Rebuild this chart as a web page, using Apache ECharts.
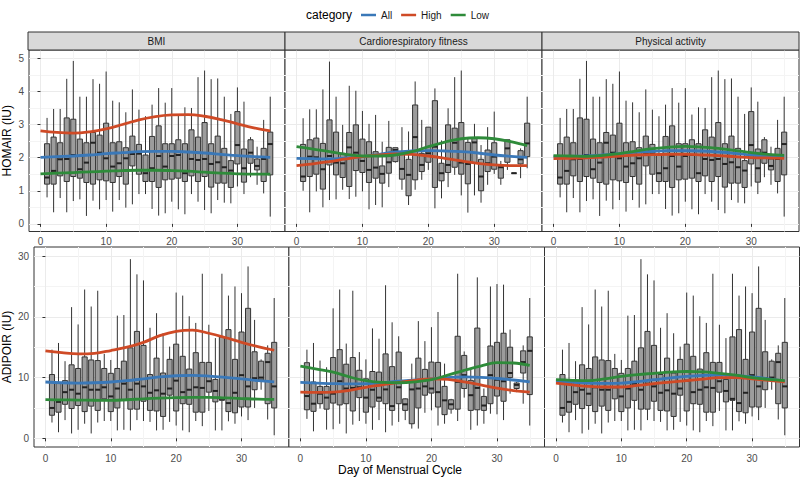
<!DOCTYPE html>
<html><head><meta charset="utf-8">
<script src="https://cdn.jsdelivr.net/npm/echarts@6/dist/echarts.min.js"></script>
<style>html,body{margin:0;padding:0;background:#fff}#c{width:800px;height:477px}</style>
</head><body><div id="c"></div><script>
const FONT = "'Liberation Sans', Arial, Helvetica, sans-serif";
const panelTitles = ['BMI', 'Cardiorespiratory fitness', 'Physical activity'];
const rowTitles = ['HOMAIR (IU)', 'ADIPOIR (IU)'];
const xTitle = 'Day of Menstrual Cycle';
const categories = ['All', 'High', 'Low'];
const categoryColors = ['#3a78b8', '#cf4a26', '#2e8b3a'];
const xTicks = [0, 10, 20, 30];
const homaTicks = [0, 1, 2, 3, 4, 5];
const adipoTicks = [0, 10, 20, 30];
const days = [1,2,3,4,5,6,7,8,9,10,11,12,13,14,15,16,17,18,19,20,21,22,23,24,25,26,27,28,29,30,31,32,33,34,35];
const smoothDays = [0, 2.5, 5, 7.5, 10, 12.5, 15, 17.5, 20, 22.5, 25, 27.5, 30, 32.5, 35];

// box stats per day: [min, q1, median, q3, max]
const homaBmiPaBoxes = [
[0.80,1.20,1.40,2.42,3.20],[0.35,1.20,1.60,2.62,3.47],[0.78,1.45,1.95,2.45,3.47],[0.35,1.28,1.96,3.20,4.38],
[0.69,1.43,2.08,3.16,4.92],[0.74,1.38,1.65,2.56,3.84],[0.24,1.25,1.85,2.45,3.84],[0.70,1.20,2.45,2.76,4.37],
[0.44,1.33,2.15,2.68,4.23],[0.72,1.30,1.98,3.04,4.60],[0.37,1.25,1.73,2.45,3.72],[0.72,1.43,1.83,2.48,3.67],
[0.49,1.20,1.98,2.30,3.37],[0.59,1.75,2.11,2.65,4.06],[0.90,1.50,2.12,2.40,3.45],[0.90,1.28,1.53,2.08,3.25],
[0.45,1.28,1.68,2.64,3.60],[0.25,1.10,2.05,2.96,4.10],[0.32,1.33,1.73,2.42,3.66],[0.67,1.35,2.05,2.42,4.10],
[0.44,1.38,2.08,2.54,3.30],[0.29,1.28,1.53,2.42,3.52],[0.90,1.45,1.96,2.84,3.50],[0.67,1.28,1.93,2.62,4.43],
[0.42,1.43,1.96,3.06,4.63],[0.32,1.11,1.81,2.42,4.37],[0.72,1.23,1.86,2.65,4.39],[0.64,1.23,1.71,2.28,3.84],
[0.62,1.10,1.61,1.91,3.32],[1.13,1.81,2.38,3.39,4.12],[0.90,1.26,1.68,2.26,3.69],[1.41,1.83,2.15,2.54,2.62],
[1.18,1.63,1.75,1.96,2.33],[0.92,1.28,1.96,2.28,3.14],[0.22,1.48,2.41,2.77,3.84]];
const homaCrfBoxes = [
[1.00,1.28,1.43,2.40,3.19],[0.35,1.43,2.03,2.54,3.46],[0.98,1.50,2.01,2.59,3.46],[0.50,1.05,1.65,2.43,4.06],
[0.72,1.78,2.05,3.14,4.90],[0.74,1.48,1.85,2.77,3.84],[1.03,1.40,1.83,2.13,2.99],[0.75,1.13,2.31,2.76,4.17],
[0.82,1.61,2.15,2.99,4.02],[0.98,1.55,1.90,2.56,3.41],[0.44,1.25,1.63,2.48,3.02],[0.57,1.38,1.70,2.18,3.29],
[0.50,1.23,1.51,1.75,2.48],[1.11,1.53,1.86,2.31,3.11],[1.85,1.88,2.23,2.30,2.30],[1.03,1.35,1.66,2.13,2.92],
[0.57,0.85,1.48,1.95,2.79],[1.03,1.33,2.62,3.59,4.30],[1.33,1.58,1.78,2.13,3.14],[1.63,1.86,2.13,2.92,2.92],
[0.47,1.10,2.33,3.72,4.09],[0.77,1.30,1.53,1.83,2.52],[1.11,1.55,1.78,2.99,3.49],[1.48,1.71,2.45,2.89,4.43],
[0.86,1.50,1.85,3.06,4.63],[0.34,1.21,1.81,2.46,2.59],[0.86,1.83,2.46,2.59,3.02],[0.64,1.00,1.43,1.95,2.38],
[1.18,1.58,1.83,2.23,2.92],[1.51,1.65,2.03,2.45,3.39],[1.18,1.38,1.71,1.75,1.90],[1.63,1.86,2.28,2.54,2.54],
[1.53,1.53,1.53,1.53,1.53],[1.38,1.81,1.95,2.21,2.28],[1.68,2.03,2.43,3.04,3.84]];
const adipoBmiPaBoxes = [
[2.6,3.8,5.0,10.5,14.6],[1.0,4.3,6.0,9.1,15.7],[3.0,5.6,7.6,9.5,12.7],[0.8,4.9,8.0,12.1,21.6],
[1.4,5.4,7.35,11.5,18.75],[2.4,4.4,8.4,13.4,24.5],[0.8,5.3,8.0,12.9,21.7],[2.6,4.6,8.0,12.8,24.3],
[2.85,6.5,8.4,11.5,13.9],[2.85,4.4,6.9,10.7,12.9],[1.3,5.0,8.2,11.5,20.2],[1.4,6.25,9.0,12.7,20.3],
[1.3,4.8,8.0,14.9,29.5],[3.0,4.8,9.0,17.6,27.0],[2.85,6.1,8.55,15.3,26.0],[2.7,4.6,7.5,10.5,18.2],
[1.3,4.5,7.9,13.2,20.6],[1.4,3.6,7.35,10.75,17.3],[2.7,7.1,8.2,13.0,15.1],[2.1,4.5,9.5,15.5,24.0],
[1.3,5.7,7.6,13.5,23.5],[1.0,5.6,8.0,11.4,20.1],[2.85,4.3,8.4,14.1,19.0],[2.0,4.3,8.3,12.5,27.1],
[4.5,7.6,9.4,12.5,18.7],[1.3,6.0,7.8,9.7,16.5],[1.3,6.25,6.5,16.7,27.1],[2.8,4.4,5.8,17.9,23.5],
[2.4,4.2,7.5,13.0,25.0],[3.6,5.15,10.4,17.5,23.9],[3.0,5.15,8.55,21.4,28.3],[5.0,8.0,9.9,14.25,19.5],
[8.0,9.6,10.0,12.7,13.0],[3.1,5.7,12.55,14.0,15.3],[0.5,5.0,8.55,15.8,23.1]];
const adipoCrfBoxes = [
[3.2,4.7,6.96,12.45,14.6],[1.15,4.44,5.7,9.27,15.7],[4.9,5.7,7.35,8.55,12.8],[1.43,4.8,6.7,8.55,11.7],
[1.5,5.8,7.35,13.3,21.4],[2.4,5.5,9.4,14.6,24.5],[0.8,5.7,8.2,12.2,15.6],[2.25,4.5,8.3,13.3,24.3],
[2.85,6.7,8.4,11.2,14.2],[2.4,4.3,6.7,9.8,13.0],[1.4,5.15,8.0,11.0,18.1],[3.0,6.1,6.7,10.9,16.4],
[1.0,5.7,8.05,13.9,25.2],[2.1,4.6,5.3,11.8,19.1],[2.7,5.7,8.4,14.2,16.8],[3.0,4.6,5.6,6.5,6.6],
[1.6,2.4,8.05,9.65,12.3],[1.6,5.0,8.2,13.2,19.3],[4.2,7.1,8.55,11.35,16.0],[4.6,7.45,8.2,12.55,18.3],
[2.1,5.15,7.6,12.5,20.8],[2.4,3.9,6.25,8.55,12.3],[4.05,4.8,5.6,6.35,6.5],[2.85,4.8,9.3,16.8,27.1],
[6.7,8.2,10.4,13.65,14.3],[1.4,4.6,7.1,9.55,11.5],[2.1,4.7,8.3,18.15,26.5],[2.4,4.6,5.4,6.9,8.2],
[4.05,5.7,10.4,15.2,25.0],[3.95,6.96,9.65,15.8,25.4],[3.0,6.1,9.4,17.3,25.3],[7.35,10.0,10.75,15.0,17.9],
[7.6,8.2,8.8,9.1,9.27],[5.7,10.75,12.55,14.4,15.3],[2.1,7.2,14.4,16.7,23.1]];

// smooth curves, values read at smoothDays
const homaBmiAll  = [2.01, 2.03, 2.05, 2.08, 2.12, 2.15, 2.18, 2.19, 2.19, 2.17, 2.14, 2.10, 2.06, 2.03, 2.01];
const homaBmiHigh = [2.81, 2.76, 2.74, 2.78, 2.87, 3.00, 3.14, 3.24, 3.29, 3.30, 3.25, 3.15, 3.02, 2.90, 2.81];
const homaBmiLow  = [1.51, 1.53, 1.55, 1.57, 1.59, 1.61, 1.62, 1.62, 1.61, 1.59, 1.56, 1.53, 1.51, 1.50, 1.50];
const homaCrfAll  = [1.98, 1.97, 1.96, 1.99, 2.03, 2.10, 2.17, 2.20, 2.21, 2.20, 2.18, 2.14, 2.08, 2.04, 2.01];
const homaCrfHigh = [1.76, 1.81, 1.88, 1.96, 2.03, 2.08, 2.11, 2.10, 2.05, 1.98, 1.90, 1.83, 1.78, 1.76, 1.76];
const homaCrfLow  = [2.33, 2.26, 2.18, 2.10, 2.05, 2.05, 2.08, 2.18, 2.33, 2.47, 2.57, 2.60, 2.57, 2.48, 2.36];
const homaPaAll   = [2.03, 2.04, 2.05, 2.08, 2.12, 2.16, 2.19, 2.21, 2.21, 2.20, 2.17, 2.13, 2.08, 2.05, 2.04];
const homaPaHigh  = [1.97, 1.98, 1.99, 2.02, 2.05, 2.08, 2.09, 2.10, 2.10, 2.08, 2.06, 2.03, 2.00, 1.99, 1.98];
const homaPaLow   = [2.06, 2.05, 2.04, 2.07, 2.12, 2.20, 2.27, 2.32, 2.34, 2.32, 2.28, 2.22, 2.15, 2.10, 2.07];
const adipoBmiAll  = [9.27, 9.15, 9.1, 9.15, 9.27, 9.5, 9.8, 10.1, 10.3, 10.35, 10.25, 10.05, 9.8, 9.5, 9.3];
const adipoBmiHigh = [14.4, 14.1, 13.9, 14.0, 14.45, 15.0, 15.8, 16.9, 17.6, 17.8, 17.3, 16.6, 15.8, 15.1, 14.5];
const adipoBmiLow  = [6.36, 6.33, 6.3, 6.27, 6.25, 6.35, 6.5, 6.62, 6.7, 6.74, 6.74, 6.65, 6.55, 6.45, 6.4];
const adipoCrfAll  = [9.2, 9.1, 9.0, 8.95, 9.0, 9.15, 9.4, 9.6, 9.8, 10.0, 10.1, 10.05, 9.85, 9.6, 9.3];
const adipoCrfHigh = [7.6, 7.55, 7.6, 7.9, 8.4, 8.8, 9.2, 9.55, 9.8, 9.7, 9.3, 8.8, 8.25, 7.85, 7.6];
const adipoCrfLow  = [11.9, 11.4, 10.9, 10.1, 9.5, 9.2, 9.15, 9.3, 9.65, 10.4, 11.2, 11.9, 12.45, 12.4, 12.0];
const adipoPaAll   = [9.4, 9.2, 9.1, 9.05, 9.1, 9.35, 9.65, 9.95, 10.2, 10.35, 10.4, 10.3, 10.1, 9.8, 9.4];
const adipoPaHigh  = [9.1, 8.8, 8.55, 8.45, 8.45, 8.7, 9.0, 9.25, 9.5, 9.75, 10.0, 10.0, 9.8, 9.55, 9.3];
const adipoPaLow   = [9.65, 9.55, 9.5, 9.8, 10.2, 10.5, 10.7, 10.9, 11.0, 10.95, 10.7, 10.4, 10.0, 9.7, 9.5];

const panels = [
  {boxes: homaBmiPaBoxes, lines: [homaBmiAll, homaBmiHigh, homaBmiLow]},
  {boxes: homaCrfBoxes, lines: [homaCrfAll, homaCrfHigh, homaCrfLow]},
  {boxes: homaBmiPaBoxes, lines: [homaPaAll, homaPaHigh, homaPaLow]},
  {boxes: adipoBmiPaBoxes, lines: [adipoBmiAll, adipoBmiHigh, adipoBmiLow]},
  {boxes: adipoCrfBoxes, lines: [adipoCrfAll, adipoCrfHigh, adipoCrfLow]},
  {boxes: adipoBmiPaBoxes, lines: [adipoPaAll, adipoPaHigh, adipoPaLow]}
];

const grids = [
  {left: 28, top: 50, width: 257, height: 181.5},
  {left: 285, top: 50, width: 257, height: 181.5},
  {left: 542, top: 50, width: 257, height: 181.5},
  {left: 33.3, top: 247, width: 255.6, height: 200},
  {left: 288.9, top: 247, width: 255.6, height: 200},
  {left: 544.5, top: 247, width: 255, height: 200}
].map(g => Object.assign({show: true, borderColor: '#333', borderWidth: 1, backgroundColor: '#fff'}, g));

const labelStyle = {fontSize: 10, color: '#4d4d4d', fontFamily: FONT};
const xAxes = grids.map((g, i) => ({
  gridIndex: i, type: 'value', min: -1.75, max: 37.25, splitNumber: 4,
  axisLine: {show: false},
  axisTick: {show: true, length: 3, lineStyle: {color: '#333'}, customValues: xTicks},
  axisLabel: Object.assign({customValues: xTicks, margin: i < 3 ? 5 : 6}, labelStyle),
  splitLine: {show: true, lineStyle: {color: '#ebebeb', width: 1}},
  minorTick: {show: false, splitNumber: 2},
  minorSplitLine: {show: true, lineStyle: {color: '#f4f4f4', width: 1}}
}));
const yAxes = grids.map((g, i) => {
  const top = i < 3;
  const first = i % 3 === 0;
  const ticks = top ? homaTicks : adipoTicks;
  const ax = {
    gridIndex: i, type: 'value',
    min: top ? -0.23 : -1.43, max: top ? 5.25 : 31.5, splitNumber: top ? 5 : 3,
    axisLine: {show: false},
    axisTick: {show: first, length: 3, lineStyle: {color: '#333'}, customValues: ticks},
    axisLabel: Object.assign({show: first, customValues: ticks, margin: 5}, labelStyle),
    splitLine: {show: true, lineStyle: {color: '#ebebeb', width: 1}},
    minorTick: {show: false, splitNumber: 2},
    minorSplitLine: {show: true, lineStyle: {color: '#f4f4f4', width: 1}}
  };
  if (first) {
    ax.name = top ? rowTitles[0] : rowTitles[1];
    ax.nameLocation = 'middle';
    ax.nameGap = top ? 16 : 21;
    ax.nameTextStyle = {fontSize: 12, color: '#000', fontFamily: FONT};
  }
  return ax;
});

function renderBox(params, api) {
  const x = api.value(0);
  const lo = api.coord([x, api.value(1)]);
  const q1 = api.coord([x, api.value(2)]);
  const md = api.coord([x, api.value(3)]);
  const q3 = api.coord([x, api.value(4)]);
  const hi = api.coord([x, api.value(5)]);
  const w = api.size([0.78, 0])[0];
  const cx = md[0];
  return {type: 'group', children: [
    {type: 'line', shape: {x1: cx, y1: lo[1], x2: cx, y2: q1[1]}, style: {stroke: '#333', lineWidth: 1}},
    {type: 'line', shape: {x1: cx, y1: q3[1], x2: cx, y2: hi[1]}, style: {stroke: '#333', lineWidth: 1}},
    {type: 'rect', shape: {x: cx - w / 2, y: q3[1], width: w, height: Math.max(q1[1] - q3[1], 0)},
      style: {fill: '#9c9c9c', stroke: '#333', lineWidth: 1}},
    {type: 'line', shape: {x1: cx - w / 2, y1: md[1], x2: cx + w / 2, y2: md[1]}, style: {stroke: '#222', lineWidth: 2}}
  ]};
}

const series = [];
panels.forEach((p, i) => {
  series.push({
    type: 'custom', xAxisIndex: i, yAxisIndex: i, renderItem: renderBox, z: 2,
    encode: {x: 0, y: [1, 2, 3, 4, 5]},
    data: days.map((d, k) => [d].concat(p.boxes[k]))
  });
  p.lines.forEach((vals, c) => {
    series.push({
      type: 'line', name: categories[c], xAxisIndex: i, yAxisIndex: i, z: 3,
      smooth: 0.4, symbol: 'none', showSymbol: false,
      lineStyle: {color: categoryColors[c], width: 2.8}, itemStyle: {color: categoryColors[c]},
      data: smoothDays.map((d, k) => [d, vals[k]])
    });
  });
});

const graphics = [];
panelTitles.forEach((t, i) => {
  const g = grids[i];
  graphics.push({type: 'rect', shape: {x: g.left, y: 32, width: g.width, height: 18},
    style: {fill: '#d9d9d9', stroke: '#333', lineWidth: 1}, z: 10});
  graphics.push({type: 'text', x: g.left + g.width / 2, y: 41, z: 11,
    style: {text: t, textAlign: 'center', textVerticalAlign: 'middle', fontSize: 10, fill: '#1a1a1a', fontFamily: FONT}});
});

const chart = echarts.init(document.getElementById('c'), null, {renderer: 'svg'});
chart.setOption({
  animation: false,
  backgroundColor: '#fff',
  title: [
    {text: 'category', left: 306, top: 9, padding: 0, textStyle: {fontSize: 12, fontWeight: 'normal', color: '#000', fontFamily: FONT}},
    {text: xTitle, left: 'center', top: 464, padding: 0, textStyle: {fontSize: 12, fontWeight: 'normal', color: '#000', fontFamily: FONT}}
  ],
  legend: {
    data: categories.map(n => ({name: n, icon: 'rect'})),
    left: 361, top: 10, padding: 0, itemWidth: 15, itemHeight: 2.5, itemGap: 9,
    selectedMode: false,
    textStyle: {fontSize: 10, color: '#1a1a1a', fontFamily: FONT}
  },
  grid: grids,
  xAxis: xAxes,
  yAxis: yAxes,
  series: series,
  graphic: graphics
});
</script></body></html>
